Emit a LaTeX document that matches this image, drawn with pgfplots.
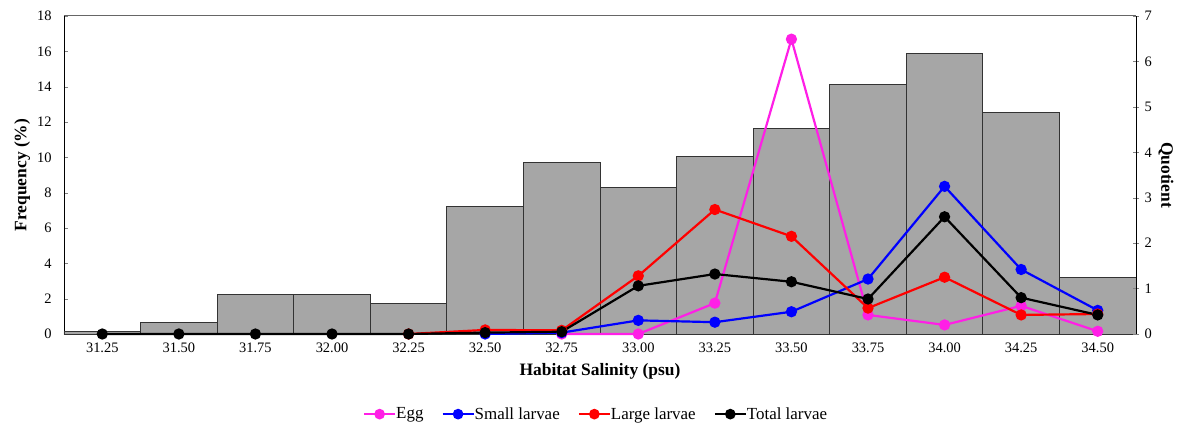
\documentclass[border=0pt]{standalone}
\usepackage{pgfplots}
\pgfplotsset{compat=1.18}
\usetikzlibrary{calc}
\usepackage{fontspec}
\setmainfont{Liberation Serif}
\definecolor{bargray}{HTML}{A6A6A6}
\definecolor{eggc}{HTML}{FF1FE6}
\definecolor{smallc}{HTML}{0000FF}
\definecolor{largec}{HTML}{FF0000}
\begin{document}
\begin{tikzpicture}
\begin{axis}[name=ax1,
  scale only axis, width=1072bp, height=318bp,
  xmin=-0.5, xmax=13.5, ymin=0, ymax=18,
  axis y line*=left, axis x line*=bottom,
  xtick={0,...,13},
  xticklabels={31.25,31.50,31.75,32.00,32.25,32.50,32.75,33.00,33.25,33.50,33.75,34.00,34.25,34.50},
  major x tick style={draw=none},
  ytick={0,2,...,18},
  tick align=inside, major tick length=4bp,
  /pgf/number format/assume math mode=true,
  ticklabel style={font=\fontsize{14.5}{16}\selectfont},
  xticklabel style={yshift=-5bp},
  yticklabel style={xshift=-9bp},
  xlabel={\textbf{Habitat Salinity (psu)}},
  ylabel={\textbf{Frequency (\%)}},
  label style={font=\fontsize{17.5}{19}\selectfont},
  xlabel style={yshift=-4bp},
  ylabel style={yshift=0bp},
  axis line style={black, line width=1pt},
  clip=false,
]
\addplot[ybar, bar width=1, fill=bargray, draw=black!80, line width=0.8pt] coordinates {
(0,0.15) (1,0.64) (2,2.25) (3,2.25) (4,1.72) (5,7.22) (6,9.69)
(7,8.29) (8,10.06) (9,11.63) (10,14.12) (11,15.88) (12,12.52) (13,3.20)};
\draw[black!60, line width=1pt] (rel axis cs:0,1) -- (rel axis cs:1,1);
\end{axis}
\begin{axis}[
  scale only axis, width=1072bp, height=318bp,
  xmin=-0.5, xmax=13.5, ymin=0, ymax=7,
  axis y line*=right, axis x line=none,
  ytick={0,...,7},
  tick align=center, major tick length=6bp,
  /pgf/number format/assume math mode=true,
  ticklabel style={font=\fontsize{14.5}{16}\selectfont},
  yticklabel style={xshift=2bp},
  ylabel={\textbf{Quotient}},
  ylabel style={rotate=180, font=\fontsize{17.5}{19}\selectfont},
  axis line style={black, line width=1pt},
  legend style={at={(0.4963,-0.252)}, anchor=center, draw=none, legend columns=4,
    font=\fontsize{17}{19}\selectfont, /tikz/every even column/.append style={column sep=16bp},
    /tikz/every odd column/.append style={column sep=-2bp}},
  legend image code/.code={\draw[#1] (0bp,0bp) -- (31bp,0bp); \fill[#1] (15.5bp,0bp) circle (4.2bp);},
  clip=false,
]
\addplot[eggc, line width=2.2pt, mark=*, mark size=4.5bp] coordinates {
(6,0) (7,0) (8,0.68) (9,6.49) (10,0.42) (11,0.20) (12,0.62) (13,0.06)};
\addlegendentry{Egg}
\addplot[smallc, line width=2.2pt, mark=*, mark size=4.5bp] coordinates {
(5,0) (6,0.03) (7,0.30) (8,0.26) (9,0.49) (10,1.21) (11,3.25) (12,1.42) (13,0.52)};
\addlegendentry{Small larvae}
\addplot[largec, line width=2.2pt, mark=*, mark size=4.5bp] coordinates {
(4,0) (5,0.09) (6,0.08) (7,1.28) (8,2.74) (9,2.15) (10,0.57) (11,1.25) (12,0.42) (13,0.44)};
\addlegendentry{Large larvae}
\addplot[black, line width=2.2pt, mark=*, mark size=4.5bp] coordinates {
(0,0) (1,0) (2,0) (3,0) (4,0) (5,0.03) (6,0.05) (7,1.06) (8,1.32) (9,1.15) (10,0.77) (11,2.58) (12,0.80) (13,0.42)};
\addlegendentry{Total larvae}
\end{axis}
\pgfresetboundingbox
\useasboundingbox ($(ax1.south west)+(-64bp,-98bp)$) rectangle ($(ax1.north east)+(62bp,16bp)$);
\end{tikzpicture}
\end{document}
